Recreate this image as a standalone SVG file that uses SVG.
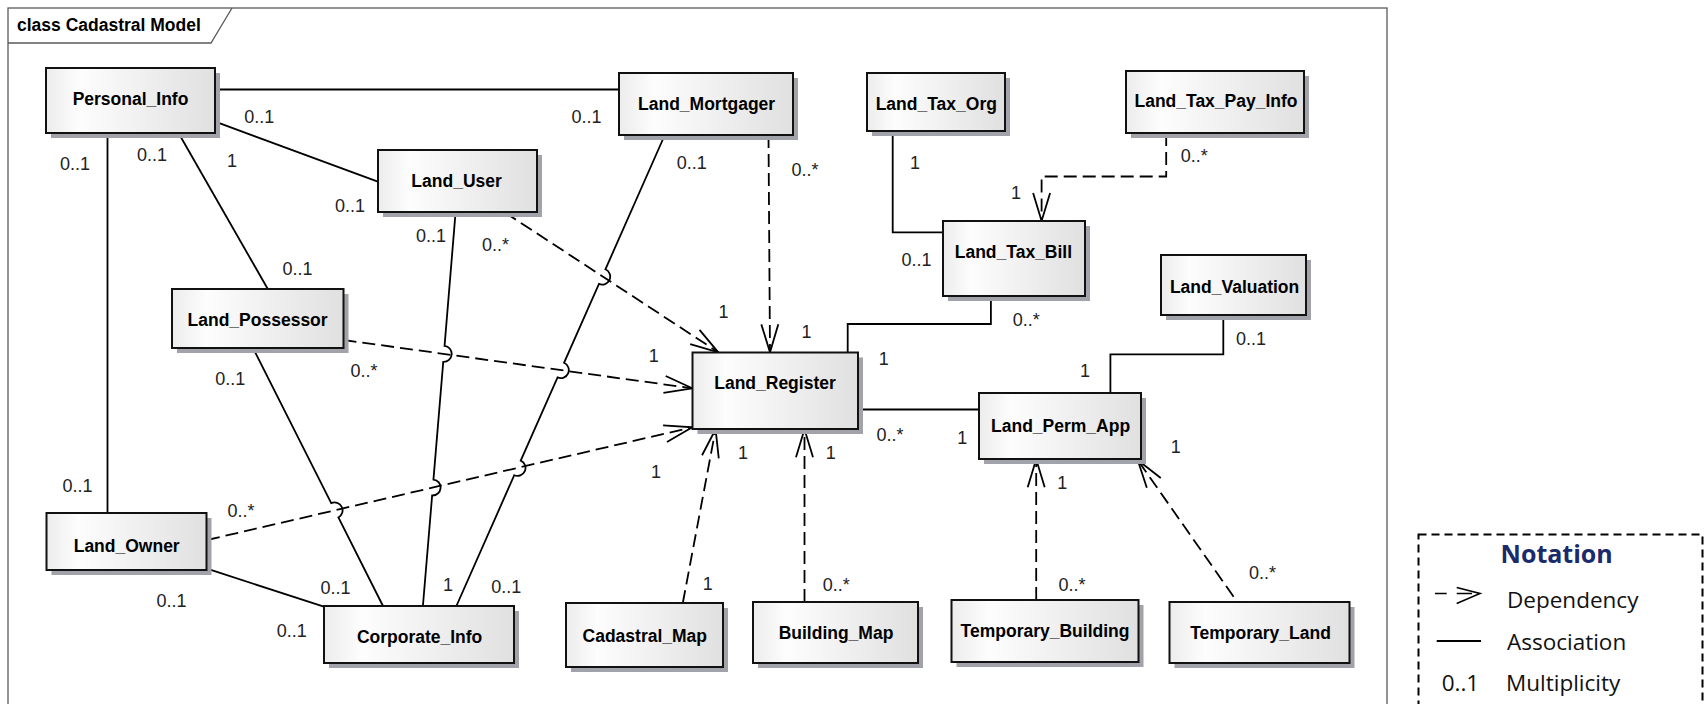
<svg xmlns="http://www.w3.org/2000/svg" width="1708" height="704" viewBox="0 0 1708 704">
<style>
.b{fill:url(#g);stroke:#111;stroke-width:2}
.s{fill:#a2a2aa}
.box text{font-family:"Liberation Sans",Arial,sans-serif;font-weight:bold;font-size:17.5px;text-anchor:middle;fill:#000}
.a{fill:none;stroke:#000;stroke-width:1.8}
.d{fill:none;stroke:#000;stroke-width:1.8;stroke-dasharray:13 6;marker-end:url(#arr)}
.m{font-family:"Liberation Sans",Arial,sans-serif;font-size:18px;fill:#222;text-anchor:middle}
.lg{font-family:"Open Sans","Noto Sans",sans-serif;font-size:22.5px;fill:#111}
</style>
<defs>
<linearGradient id="g" x1="0" y1="0" x2="1" y2="0">
<stop offset="0" stop-color="#ececec"/>
<stop offset="0.2" stop-color="#fdfdfd"/>
<stop offset="1" stop-color="#e0e0e0"/>
</linearGradient>
<marker id="arr" markerUnits="userSpaceOnUse" viewBox="-30 -12 32 24" markerWidth="32" markerHeight="24" refX="0" refY="0" orient="auto" overflow="visible">
<path d="M-28,-8.5 L0,0 L-28,8.5" fill="none" stroke="#000" stroke-width="1.8" stroke-dasharray="none"/>
</marker>
</defs>
<rect width="1708" height="704" fill="#fff"/>
<g id="frame">
<rect x="8" y="8" width="1379" height="710" fill="none" stroke="#5a5a5a" stroke-width="1.3"/>
<path d="M8,43 H211 L232,8" fill="none" stroke="#5a5a5a" stroke-width="1.3"/>
<text x="17" y="31" font-family="Liberation Sans,Arial,sans-serif" font-weight="bold" font-size="17.5">class Cadastral Model</text>
</g>
<g id="connectors">
<path class="a" d="M215,89.5 H619"/>
<path class="a" d="M215.3,121.7 L377.8,181.7"/>
<path class="a" d="M178.5,133 L267.8,289"/>
<path class="a" d="M107.5,133 V513"/>
<path class="a" d="M455.6,212 L444.56,345.93 A8,8 0 0 1 443.24,361.87 L433.46,479.53 A8,8 0 0 1 432.14,495.47 L422.9,606"/>
<path class="a" d="M253,348 L331.2,503.16 A8,8 0 0 1 338.4,517.44 L383,606"/>
<path class="a" d="M664.8,135 L605.44,269.28 A8,8 0 0 1 598.96,283.92 L564.04,362.78 A8,8 0 0 1 557.56,377.42 L520.74,460.58 A8,8 0 0 1 514.26,475.22 L456.4,606"/>
<path class="a" d="M207,568.7 L323.8,606.7"/>
<path class="a" d="M892.7,131 V232.3 H943"/>
<path class="a" d="M990.9,296 V324 H847.7 V352.5"/>
<path class="a" d="M858,409.5 H979"/>
<path class="a" d="M1223.3,315 V354.3 H1110.4 V393"/>
<path class="d" d="M505,212.5 L718.3,352.3"/>
<path class="d" d="M768.5,135 L770,352.3"/>
<path class="d" d="M343.5,340 L692.3,388.3"/>
<path class="d" d="M207,540 L692.3,427.3"/>
<path class="d" d="M682.8,603 L715.6,429.3"/>
<path class="d" d="M804.5,602 V429.3"/>
<path class="d" d="M1166.2,133 V176.5 H1041.6 V221"/>
<path class="d" d="M1036.2,600 V459.3"/>
<path class="d" d="M1233.6,596.7 L1137.7,460"/>
</g>
<g id="Personal_Info" class="box"><rect class="s" x="51" y="73" width="169" height="65"/><rect class="b" x="46" y="68" width="169" height="65"/><text x="130.5" y="105">Personal_Info</text></g>
<g id="Land_User" class="box"><rect class="s" x="383" y="155" width="159" height="62"/><rect class="b" x="378" y="150" width="159" height="62"/><text x="456.6" y="186.7">Land_User</text></g>
<g id="Land_Possessor" class="box"><rect class="s" x="177" y="294" width="171.5" height="59"/><rect class="b" x="172" y="289" width="171.5" height="59"/><text x="257.6" y="325.7">Land_Possessor</text></g>
<g id="Land_Mortgager" class="box"><rect class="s" x="624" y="78" width="174" height="62"/><rect class="b" x="619" y="73" width="174" height="62"/><text x="706.6" y="110">Land_Mortgager</text></g>
<g id="Land_Tax_Org" class="box"><rect class="s" x="872" y="78" width="138" height="58"/><rect class="b" x="867" y="73" width="138" height="58"/><text x="936.3" y="110">Land_Tax_Org</text></g>
<g id="Land_Tax_Bill" class="box"><rect class="s" x="948" y="226" width="142" height="75"/><rect class="b" x="943" y="221" width="142" height="75"/><text x="1013.4" y="258.3">Land_Tax_Bill</text></g>
<g id="Land_Tax_Pay_Info" class="box"><rect class="s" x="1131" y="76" width="178" height="62"/><rect class="b" x="1126" y="71" width="178" height="62"/><text x="1216" y="107.3">Land_Tax_Pay_Info</text></g>
<g id="Land_Valuation" class="box"><rect class="s" x="1166" y="260" width="145" height="60"/><rect class="b" x="1161" y="255" width="145" height="60"/><text x="1234.6" y="292.7">Land_Valuation</text></g>
<g id="Land_Register" class="box"><rect class="s" x="697.5" y="357.5" width="165.5" height="76.5"/><rect class="b" x="692.5" y="352.5" width="165.5" height="76.5"/><text x="775" y="389.3">Land_Register</text></g>
<g id="Land_Perm_App" class="box"><rect class="s" x="984" y="398" width="162" height="66"/><rect class="b" x="979" y="393" width="162" height="66"/><text x="1060.6" y="431.7">Land_Perm_App</text></g>
<g id="Cadastral_Map" class="box"><rect class="s" x="571" y="608" width="157" height="64"/><rect class="b" x="566" y="603" width="157" height="64"/><text x="644.8" y="641.7">Cadastral_Map</text></g>
<g id="Building_Map" class="box"><rect class="s" x="758" y="607" width="165" height="61"/><rect class="b" x="753" y="602" width="165" height="61"/><text x="836" y="639.3">Building_Map</text></g>
<g id="Temporary_Building" class="box"><rect class="s" x="956.5" y="605" width="187" height="62"/><rect class="b" x="951.5" y="600" width="187" height="62"/><text x="1045" y="636.7">Temporary_Building</text></g>
<g id="Temporary_Land" class="box"><rect class="s" x="1174.5" y="607" width="180" height="61"/><rect class="b" x="1169.5" y="602" width="180" height="61"/><text x="1260.5" y="639.3">Temporary_Land</text></g>
<g id="Land_Owner" class="box"><rect class="s" x="51.5" y="518" width="160" height="57"/><rect class="b" x="46.5" y="513" width="160" height="57"/><text x="126.7" y="551.7">Land_Owner</text></g>
<g id="Corporate_Info" class="box"><rect class="s" x="329" y="611" width="190" height="57"/><rect class="b" x="324" y="606" width="190" height="57"/><text x="419.6" y="643.3">Corporate_Info</text></g>
<g id="multiplicities">
<text class="m" x="259.2" y="122.5">0..1</text>
<text class="m" x="75" y="169.8">0..1</text>
<text class="m" x="152" y="160.5">0..1</text>
<text class="m" x="232" y="166.5">1</text>
<text class="m" x="350" y="211.5">0..1</text>
<text class="m" x="431" y="241.8">0..1</text>
<text class="m" x="495.5" y="250.8">0..*</text>
<text class="m" x="297.4" y="275.2">0..1</text>
<text class="m" x="586.4" y="123.2">0..1</text>
<text class="m" x="691.7" y="168.8">0..1</text>
<text class="m" x="805" y="175.5">0..*</text>
<text class="m" x="914.9" y="168.8">1</text>
<text class="m" x="1015.9" y="199.2">1</text>
<text class="m" x="916.6" y="265.5">0..1</text>
<text class="m" x="1026.2" y="325.5">0..*</text>
<text class="m" x="723.6" y="318.2">1</text>
<text class="m" x="806.4" y="337.5">1</text>
<text class="m" x="653.8" y="361.5">1</text>
<text class="m" x="883.8" y="364.8">1</text>
<text class="m" x="1194.3" y="161.5">0..*</text>
<text class="m" x="1250.9" y="344.8">0..1</text>
<text class="m" x="230.3" y="384.8">0..1</text>
<text class="m" x="364.1" y="376.5">0..*</text>
<text class="m" x="77.5" y="491.5">0..1</text>
<text class="m" x="241" y="516.5">0..*</text>
<text class="m" x="171.4" y="607.2">0..1</text>
<text class="m" x="291.7" y="637.2">0..1</text>
<text class="m" x="335.6" y="593.8">0..1</text>
<text class="m" x="448" y="590.8">1</text>
<text class="m" x="506.2" y="592.5">0..1</text>
<text class="m" x="656" y="478.2">1</text>
<text class="m" x="743" y="459.2">1</text>
<text class="m" x="830.7" y="459.2">1</text>
<text class="m" x="1085" y="376.5">1</text>
<text class="m" x="889.9" y="440.5">0..*</text>
<text class="m" x="962.3" y="444.2">1</text>
<text class="m" x="1062.3" y="489.2">1</text>
<text class="m" x="707.8" y="589.8">1</text>
<text class="m" x="836.3" y="590.8">0..*</text>
<text class="m" x="1072" y="590.8">0..*</text>
<text class="m" x="1175.7" y="453.2">1</text>
<text class="m" x="1262.5" y="578.8">0..*</text>
</g>
<g id="legend">
<rect x="1418.5" y="534.5" width="284" height="180" fill="none" stroke="#000" stroke-width="2" stroke-dasharray="8 5"/>
<text x="1556.7" y="563.3" text-anchor="middle" font-family="Open Sans,Noto Sans,sans-serif" font-weight="bold" font-size="25" fill="#1b2a6b">Notation</text>
<path d="M1435,593.5 H1446.7 M1456.7,593.5 H1472 M1456.7,587.5 L1480,593.5 L1456.7,603.5" fill="none" stroke="#000" stroke-width="1.6"/>
<text class="lg" x="1507" y="607.7">Dependency</text>
<path d="M1436.7,641 H1481" fill="none" stroke="#000" stroke-width="2"/>
<text class="lg" x="1507" y="650">Association</text>
<text class="lg" x="1441.7" y="690.7">0..1</text>
<text class="lg" x="1506" y="690.7">Multiplicity</text>
</g>
</svg>
